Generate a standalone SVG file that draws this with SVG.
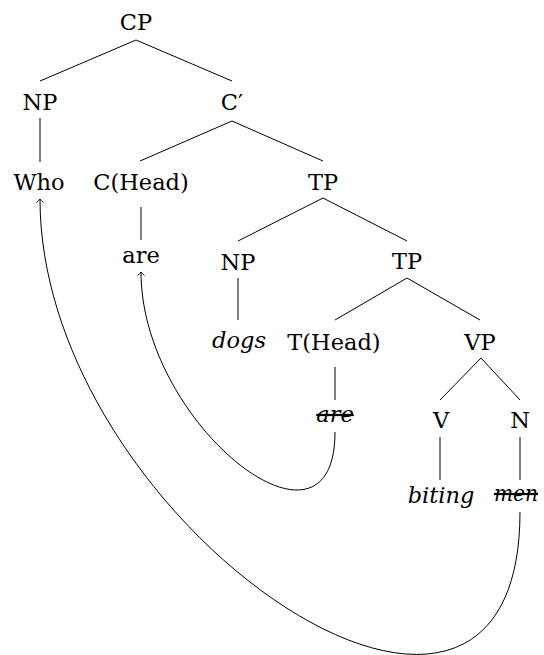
<svg xmlns="http://www.w3.org/2000/svg" width="544" height="655" viewBox="0 0 544 655">
<style>
text{font-family:"DejaVu Serif","Liberation Serif",serif;font-size:22.5px;fill:#000;text-anchor:middle}
.it{font-style:italic}
.st{text-decoration:line-through}
.e{stroke:#000;stroke-width:1;fill:none}
.mv{stroke:#000;stroke-width:1;fill:none;marker-end:url(#arr)}
</style>
<defs>
<marker id="arr" markerUnits="userSpaceOnUse" markerWidth="10" markerHeight="10" viewBox="-5 -5 10 10" refX="0" refY="0" orient="auto">
<path d="M-3.5,-3.5 Q-1.2,-0.8 0,0 Q-1.2,0.8 -3.5,3.5" fill="none" stroke="#000" stroke-width="0.9"/>
</marker>
</defs>
<g id="connectors">
<line class="e" x1="136" y1="40" x2="40" y2="81"/>
<line class="e" x1="136" y1="40" x2="232" y2="81"/>
<line class="e" x1="40" y1="118" x2="40" y2="162"/>
<line class="e" x1="232" y1="121" x2="140" y2="161"/>
<line class="e" x1="232" y1="121" x2="323" y2="161"/>
<line class="e" x1="141" y1="207" x2="141" y2="240"/>
<line class="e" x1="323" y1="198" x2="238" y2="241"/>
<line class="e" x1="323" y1="198" x2="407" y2="241"/>
<line class="e" x1="238" y1="278" x2="238" y2="320"/>
<line class="e" x1="407" y1="278" x2="335" y2="320"/>
<line class="e" x1="407" y1="278" x2="480" y2="320"/>
<line class="e" x1="335" y1="367" x2="335" y2="400"/>
<line class="e" x1="481" y1="358" x2="440" y2="400"/>
<line class="e" x1="481" y1="358" x2="520" y2="400"/>
<line class="e" x1="440" y1="437" x2="440" y2="480"/>
<line class="e" x1="520" y1="437" x2="520" y2="480"/>
<path class="mv" d="M335,432 C335,576 141,425 141,272"/>
<path class="mv" d="M520,512 C520,849 40,524 40,199"/>
</g>
<g id="cp"><text x="136" y="30">CP</text></g>
<g id="np1"><text x="40" y="110">NP</text></g>
<g id="cbar"><text x="232" y="110">C′</text></g>
<g id="who"><text x="39" y="190">Who</text></g>
<g id="chead"><text x="141" y="190">C(Head)</text></g>
<g id="tp1"><text x="323" y="190">TP</text></g>
<g id="are1"><text x="141" y="263">are</text></g>
<g id="np2"><text x="238" y="270">NP</text></g>
<g id="tp2"><text x="407" y="269">TP</text></g>
<g id="dogs"><text class="it" x="239" y="348">dogs</text></g>
<g id="thead"><text x="334" y="350">T(Head)</text></g>
<g id="vp"><text x="480" y="350">VP</text></g>
<g id="are2"><text class="it st" x="335" y="422">are</text></g>
<g id="v"><text x="441" y="428">V</text></g>
<g id="n"><text x="520" y="428">N</text></g>
<g id="biting"><text class="it" x="441" y="503">biting</text></g>
<g id="men"><text class="it st" x="516" y="501" textLength="44" lengthAdjust="spacingAndGlyphs">men</text></g>
</svg>
